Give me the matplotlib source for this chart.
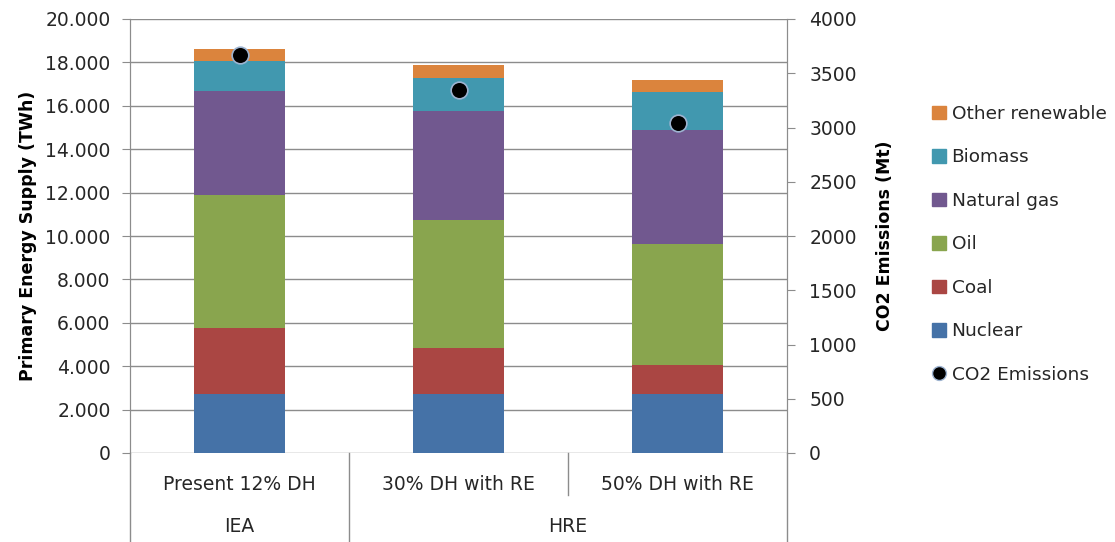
import numpy as np
import matplotlib
matplotlib.use("Agg")
import matplotlib.pyplot as plt
from matplotlib.patches import Patch
from matplotlib.lines import Line2D
from matplotlib.ticker import FuncFormatter, MultipleLocator

scenarios = ["Present 12% DH", "30% DH with RE", "50% DH with RE"]
groups = ["IEA", "HRE"]
series = ["Nuclear", "Coal", "Oil", "Natural gas", "Biomass", "Other renewable"]
nuclear = [2710, 2710, 2710]
coal = [3060, 2120, 1340]
oil = [6100, 5890, 5590]
natural_gas = [4820, 5030, 5240]
biomass = [1370, 1520, 1770]
other_renewable = [540, 590, 560]
co2 = [3665, 3343, 3037]
colors = ["#4572A7", "#AA4643", "#89A54E", "#71588F", "#4198AF", "#DB843D"]

plt.rcParams.update({"font.family": "DejaVu Sans", "font.size": 13.5,
                     "text.color": "#262626"})
GRID = "#8c8c8c"

fig = plt.figure(figsize=(11.15, 5.42), dpi=100)
ax = fig.add_axes([130 / 1115, 1 - 453 / 542, (787 - 130) / 1115, (453 - 19) / 542])
ax2 = ax.twinx()

x = np.arange(len(scenarios))
bottom = np.zeros(len(scenarios))
for vals, c in zip([nuclear, coal, oil, natural_gas, biomass, other_renewable], colors):
    ax.bar(x, vals, width=0.42, bottom=bottom, color=c, zorder=3, lw=0)
    bottom += np.array(vals)

ax2.plot(x, co2, 'o', ms=12, mfc='black', mec='#9DB3D0', mew=1.2, zorder=5)

ax.set_xlim(-0.5, 2.5)
ax.set_ylim(0, 20000)
ax.yaxis.set_major_locator(MultipleLocator(2000))
ax.yaxis.set_major_formatter(FuncFormatter(
    lambda v, p: "0" if v == 0 else f"{int(v):,}".replace(",", ".")))
ax.grid(axis='y', color=GRID, lw=1, zorder=0)
ax.set_xticks([])
ax.tick_params(axis='y', length=6, color=GRID, pad=8, labelcolor='#262626')
ax.set_ylabel("Primary Energy Supply (TWh)", fontweight='bold', fontsize=12.5, labelpad=6)

ax2.set_ylim(0, 4000)
ax2.yaxis.set_major_locator(MultipleLocator(500))
ax2.tick_params(axis='y', length=6, color=GRID, pad=10, labelcolor='#262626')
ax2.set_ylabel("CO2 Emissions (Mt)", fontweight='bold', fontsize=12.5, labelpad=14)

for a in (ax, ax2):
    a.spines['top'].set_visible(False)
    a.spines['bottom'].set_visible(False)
    for s in ('left', 'right'):
        a.spines[s].set_color(GRID)

# multi-level category axis below the plot
bot = -(542 - 453) / 434
mid = -(495 - 453) / 434
for xa, yb in [(0, bot), (1 / 3, bot), (2 / 3, mid), (1, bot)]:
    ax.plot([xa, xa], [0, yb], transform=ax.transAxes, color=GRID, lw=1, clip_on=False)
for i, lab in enumerate(scenarios):
    ax.text((i + 0.5) / 3, -(485 - 453) / 434, lab, transform=ax.transAxes,
            ha='center', va='center')
ax.text(1 / 6, -(527 - 453) / 434, groups[0], transform=ax.transAxes, ha='center', va='center')
ax.text(2 / 3, -(527 - 453) / 434, groups[1], transform=ax.transAxes, ha='center', va='center')

handles = [Patch(color=c, label=s) for s, c in zip(series, colors)][::-1]
handles.append(Line2D([], [], ls='none', marker='o', ms=10, mfc='black',
                      mec='#9DB3D0', label="CO2 Emissions"))
fig.legend(handles=handles, loc='upper left', bbox_to_anchor=(0.836, 1 - 105 / 542),
           frameon=False, handlelength=0.75, handleheight=0.75, handletextpad=0.3,
           labelspacing=1.38, borderpad=0, borderaxespad=0, fontsize=13.3)

fig.savefig("out.png", dpi=100)
